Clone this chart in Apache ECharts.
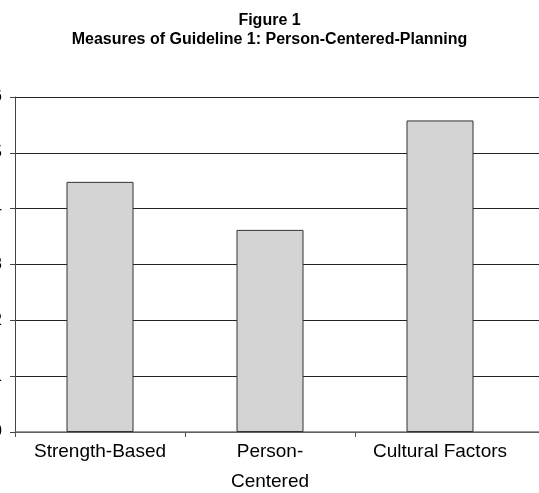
<!DOCTYPE html>
<html>
<head>
<meta charset="utf-8">
<script src="https://cdn.jsdelivr.net/npm/echarts@6/dist/echarts.min.js"></script>
<style>
  html, body { margin: 0; padding: 0; background: #fff; }
  #chart { width: 539px; height: 493px; }
</style>
</head>
<body>
<div id="chart"></div>
<script>
// Guideline 1 measures
const categories = ['Strength-Based', 'Person-Centered', 'Cultural Factors'];
const scores = [4.48, 3.62, 5.58];
const yTicks = [0, 1, 2, 3, 4, 5, 6];

// Labels that are too wide for their slot wrap after the hyphen
const wrapped = { 'Person-Centered': 'Person-\nCentered' };

const chart = echarts.init(document.getElementById('chart'), null, { renderer: 'canvas' });

// Each category occupies one unit on the x scale; the plot runs on past the last one
const bandPx = 170;
const plotLeft = 15;
const xMax = (539 - plotLeft) / bandPx;

chart.setOption({
  animation: false,
  backgroundColor: '#fff',
  title: {
    text: 'Figure 1\nMeasures of Guideline 1: Person-Centered-Planning',
    left: 'center',
    top: 6,
    textStyle: {
      fontFamily: '"Liberation Sans Narrow", "Arial Narrow", "Liberation Sans", Arial, sans-serif',
      fontWeight: 'bold',
      fontSize: 16,
      lineHeight: 19,
      color: '#000'
    }
  },
  grid: { left: plotLeft, right: 0, top: 97, bottom: 61, outerBoundsMode: 'none', containLabel: false },
  xAxis: {
    type: 'value',
    min: 0,
    max: xMax,
    axisLine: { show: true, lineStyle: { color: '#777', width: 1.5 } },
    axisTick: {
      show: true,
      length: 5,
      customValues: categories.map((c, i) => i),
      lineStyle: { color: '#555' }
    },
    axisLabel: {
      customValues: categories.map((c, i) => i + 0.5),
      formatter: v => {
        const name = categories[Math.floor(v)];
        return wrapped[name] || name;
      },
      margin: 5,
      color: '#000',
      fontFamily: '"Liberation Sans", Arial, sans-serif',
      fontSize: 19,
      lineHeight: 30
    },
    splitLine: { show: false }
  },
  yAxis: {
    type: 'value',
    min: yTicks[0],
    max: yTicks[yTicks.length - 1],
    interval: 1,
    axisLine: { show: true, lineStyle: { color: '#444', width: 1 } },
    axisTick: { show: true, length: 5, lineStyle: { color: '#444' } },
    axisLabel: {
      margin: 13,
      color: '#000',
      fontFamily: '"Liberation Sans", Arial, sans-serif',
      fontSize: 16
    },
    splitLine: { show: true, lineStyle: { color: '#222', width: 1 } }
  },
  series: [{
    type: 'bar',
    data: scores.map((v, i) => [i + 0.5, v]),
    barWidth: 67,
    itemStyle: { color: '#d4d4d4', borderColor: '#333', borderWidth: 1 }
  }]
});
</script>
</body>
</html>
